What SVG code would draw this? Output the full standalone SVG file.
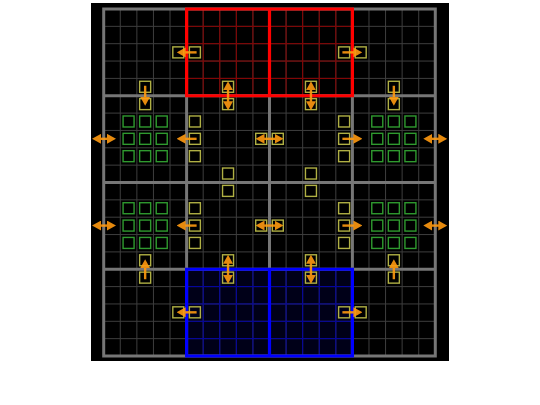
<svg xmlns="http://www.w3.org/2000/svg" xmlns:xlink="http://www.w3.org/1999/xlink" width="540" height="405" viewBox="0 0 540 405">
<style>
.fine{fill:none;stroke:#3e3e3e;stroke-width:1}
.fr{fill:none;stroke:#8a0000;stroke-width:1}
.fb{fill:none;stroke:#0000a8;stroke-width:1}
.thick{fill:none;stroke:#767676;stroke-width:3}
.tr{fill:none;stroke:#ff0000;stroke-width:3.2}
.tb{fill:none;stroke:#0000ff;stroke-width:3.2}
.y{fill:none;stroke:#b0b044;stroke-width:1.4}
.g{fill:none;stroke:#2f9a2f;stroke-width:1.4}
.ar{stroke:#ff9a10;stroke-width:2.4;fill:none;opacity:0.9}
.s{marker-end:url(#ah)}
.d{marker-start:url(#ah);marker-end:url(#ah)}
</style>
<defs>
<marker id="ah" markerUnits="userSpaceOnUse" markerWidth="9" markerHeight="10" refX="4.5" refY="5" orient="auto-start-reverse" viewBox="0 0 9 10">
<path d="M0,0 L9,5 L0,10 z" fill="#ff9a10"/>
</marker>
</defs>
<rect x="0" y="0" width="540" height="405" fill="#ffffff"/>
<rect x="91" y="3" width="358" height="358" fill="#000000"/>
<g id="grid">
<g transform="translate(103.7,9) scale(16.58,17.35)">
<rect x="5" y="15" width="10" height="5" fill="#000018"/>
<path class="fine" vector-effect="non-scaling-stroke" d="M0,1H20M0,2H20M0,3H20M0,4H20M0,6H20M0,7H20M0,8H20M0,9H20M0,11H20M0,12H20M0,13H20M0,14H20M0,16H20M0,17H20M0,18H20M0,19H20M1,0V20M2,0V20M3,0V20M4,0V20M6,0V20M7,0V20M8,0V20M9,0V20M11,0V20M12,0V20M13,0V20M14,0V20M16,0V20M17,0V20M18,0V20M19,0V20"/>
<path class="fr" vector-effect="non-scaling-stroke" d="M5,1H15M5,2H15M5,3H15M5,4H15M6,0V5M7,0V5M8,0V5M9,0V5M11,0V5M12,0V5M13,0V5M14,0V5"/>
<path class="fb" vector-effect="non-scaling-stroke" d="M5,16H15M5,17H15M5,18H15M5,19H15M6,15V20M7,15V20M8,15V20M9,15V20M11,15V20M12,15V20M13,15V20M14,15V20"/>
<path class="thick" vector-effect="non-scaling-stroke" d="M0,0H20V20H0Z M5,0V20 M10,0V20 M15,0V20 M0,5H20 M0,10H20 M0,15H20"/>
<path class="tr" vector-effect="non-scaling-stroke" d="M5,0H15V5H5Z M10,0V5"/>
<path class="tb" vector-effect="non-scaling-stroke" d="M5,15H15V20H5Z M10,15V20"/>
</g>
</g>
<g id="n-y-4-2"><rect class="y" x="172.81" y="46.88" width="11" height="11"/></g>
<g id="n-y-5-2"><rect class="y" x="189.39" y="46.88" width="11" height="11"/></g>
<g id="n-y-14-2"><rect class="y" x="338.61" y="46.88" width="11" height="11"/></g>
<g id="n-y-15-2"><rect class="y" x="355.19" y="46.88" width="11" height="11"/></g>
<g id="n-y-2-4"><rect class="y" x="139.65" y="81.28" width="11" height="11"/></g>
<g id="n-y-2-5"><rect class="y" x="139.65" y="98.63" width="11" height="11"/></g>
<g id="n-y-7-4"><rect class="y" x="222.55" y="81.28" width="11" height="11"/></g>
<g id="n-y-7-5"><rect class="y" x="222.55" y="98.63" width="11" height="11"/></g>
<g id="n-y-12-4"><rect class="y" x="305.45" y="81.28" width="11" height="11"/></g>
<g id="n-y-12-5"><rect class="y" x="305.45" y="98.63" width="11" height="11"/></g>
<g id="n-y-17-4"><rect class="y" x="388.35" y="81.28" width="11" height="11"/></g>
<g id="n-y-17-5"><rect class="y" x="388.35" y="98.63" width="11" height="11"/></g>
<g id="n-y-5-6"><rect class="y" x="189.39" y="115.98" width="11" height="11"/></g>
<g id="n-y-5-7"><rect class="y" x="189.39" y="133.33" width="11" height="11"/></g>
<g id="n-y-5-8"><rect class="y" x="189.39" y="150.68" width="11" height="11"/></g>
<g id="n-y-14-6"><rect class="y" x="338.61" y="115.98" width="11" height="11"/></g>
<g id="n-y-14-7"><rect class="y" x="338.61" y="133.33" width="11" height="11"/></g>
<g id="n-y-14-8"><rect class="y" x="338.61" y="150.68" width="11" height="11"/></g>
<g id="n-y-9-7"><rect class="y" x="255.71" y="133.33" width="11" height="11"/></g>
<g id="n-y-10-7"><rect class="y" x="272.29" y="133.33" width="11" height="11"/></g>
<g id="n-y-7-9"><rect class="y" x="222.55" y="168.03" width="11" height="11"/></g>
<g id="n-y-7-10"><rect class="y" x="222.55" y="185.38" width="11" height="11"/></g>
<g id="n-y-12-9"><rect class="y" x="305.45" y="168.03" width="11" height="11"/></g>
<g id="n-y-12-10"><rect class="y" x="305.45" y="185.38" width="11" height="11"/></g>
<g id="n-y-5-11"><rect class="y" x="189.39" y="202.73" width="11" height="11"/></g>
<g id="n-y-5-12"><rect class="y" x="189.39" y="220.08" width="11" height="11"/></g>
<g id="n-y-5-13"><rect class="y" x="189.39" y="237.43" width="11" height="11"/></g>
<g id="n-y-14-11"><rect class="y" x="338.61" y="202.73" width="11" height="11"/></g>
<g id="n-y-14-12"><rect class="y" x="338.61" y="220.08" width="11" height="11"/></g>
<g id="n-y-14-13"><rect class="y" x="338.61" y="237.43" width="11" height="11"/></g>
<g id="n-y-9-12"><rect class="y" x="255.71" y="220.08" width="11" height="11"/></g>
<g id="n-y-10-12"><rect class="y" x="272.29" y="220.08" width="11" height="11"/></g>
<g id="n-y-2-14"><rect class="y" x="139.65" y="254.78" width="11" height="11"/></g>
<g id="n-y-2-15"><rect class="y" x="139.65" y="272.13" width="11" height="11"/></g>
<g id="n-y-7-14"><rect class="y" x="222.55" y="254.78" width="11" height="11"/></g>
<g id="n-y-7-15"><rect class="y" x="222.55" y="272.13" width="11" height="11"/></g>
<g id="n-y-12-14"><rect class="y" x="305.45" y="254.78" width="11" height="11"/></g>
<g id="n-y-12-15"><rect class="y" x="305.45" y="272.13" width="11" height="11"/></g>
<g id="n-y-17-14"><rect class="y" x="388.35" y="254.78" width="11" height="11"/></g>
<g id="n-y-17-15"><rect class="y" x="388.35" y="272.13" width="11" height="11"/></g>
<g id="n-y-4-17"><rect class="y" x="172.81" y="306.83" width="11" height="11"/></g>
<g id="n-y-5-17"><rect class="y" x="189.39" y="306.83" width="11" height="11"/></g>
<g id="n-y-14-17"><rect class="y" x="338.61" y="306.83" width="11" height="11"/></g>
<g id="n-y-15-17"><rect class="y" x="355.19" y="306.83" width="11" height="11"/></g>
<g id="n-g-1-6"><rect class="g" x="123.07" y="115.98" width="11" height="11"/></g>
<g id="n-g-2-6"><rect class="g" x="139.65" y="115.98" width="11" height="11"/></g>
<g id="n-g-3-6"><rect class="g" x="156.23" y="115.98" width="11" height="11"/></g>
<g id="n-g-1-7"><rect class="g" x="123.07" y="133.33" width="11" height="11"/></g>
<g id="n-g-2-7"><rect class="g" x="139.65" y="133.33" width="11" height="11"/></g>
<g id="n-g-3-7"><rect class="g" x="156.23" y="133.33" width="11" height="11"/></g>
<g id="n-g-1-8"><rect class="g" x="123.07" y="150.68" width="11" height="11"/></g>
<g id="n-g-2-8"><rect class="g" x="139.65" y="150.68" width="11" height="11"/></g>
<g id="n-g-3-8"><rect class="g" x="156.23" y="150.68" width="11" height="11"/></g>
<g id="n-g-16-6"><rect class="g" x="371.77" y="115.98" width="11" height="11"/></g>
<g id="n-g-17-6"><rect class="g" x="388.35" y="115.98" width="11" height="11"/></g>
<g id="n-g-18-6"><rect class="g" x="404.93" y="115.98" width="11" height="11"/></g>
<g id="n-g-16-7"><rect class="g" x="371.77" y="133.33" width="11" height="11"/></g>
<g id="n-g-17-7"><rect class="g" x="388.35" y="133.33" width="11" height="11"/></g>
<g id="n-g-18-7"><rect class="g" x="404.93" y="133.33" width="11" height="11"/></g>
<g id="n-g-16-8"><rect class="g" x="371.77" y="150.68" width="11" height="11"/></g>
<g id="n-g-17-8"><rect class="g" x="388.35" y="150.68" width="11" height="11"/></g>
<g id="n-g-18-8"><rect class="g" x="404.93" y="150.68" width="11" height="11"/></g>
<g id="n-g-1-11"><rect class="g" x="123.07" y="202.73" width="11" height="11"/></g>
<g id="n-g-2-11"><rect class="g" x="139.65" y="202.73" width="11" height="11"/></g>
<g id="n-g-3-11"><rect class="g" x="156.23" y="202.73" width="11" height="11"/></g>
<g id="n-g-1-12"><rect class="g" x="123.07" y="220.08" width="11" height="11"/></g>
<g id="n-g-2-12"><rect class="g" x="139.65" y="220.08" width="11" height="11"/></g>
<g id="n-g-3-12"><rect class="g" x="156.23" y="220.08" width="11" height="11"/></g>
<g id="n-g-1-13"><rect class="g" x="123.07" y="237.43" width="11" height="11"/></g>
<g id="n-g-2-13"><rect class="g" x="139.65" y="237.43" width="11" height="11"/></g>
<g id="n-g-3-13"><rect class="g" x="156.23" y="237.43" width="11" height="11"/></g>
<g id="n-g-16-11"><rect class="g" x="371.77" y="202.73" width="11" height="11"/></g>
<g id="n-g-17-11"><rect class="g" x="388.35" y="202.73" width="11" height="11"/></g>
<g id="n-g-18-11"><rect class="g" x="404.93" y="202.73" width="11" height="11"/></g>
<g id="n-g-16-12"><rect class="g" x="371.77" y="220.08" width="11" height="11"/></g>
<g id="n-g-17-12"><rect class="g" x="388.35" y="220.08" width="11" height="11"/></g>
<g id="n-g-18-12"><rect class="g" x="404.93" y="220.08" width="11" height="11"/></g>
<g id="n-g-16-13"><rect class="g" x="371.77" y="237.43" width="11" height="11"/></g>
<g id="n-g-17-13"><rect class="g" x="388.35" y="237.43" width="11" height="11"/></g>
<g id="n-g-18-13"><rect class="g" x="404.93" y="237.43" width="11" height="11"/></g>
<g id="connectors" class="ar">
<line class="s" x1="196.6" y1="52.38" x2="181.1" y2="52.38"/>
<line class="s" x1="342.4" y1="52.38" x2="357.9" y2="52.38"/>
<line class="s" x1="145.15" y1="85.75" x2="145.15" y2="101.25"/>
<line class="d" x1="228.05" y1="85.75" x2="228.05" y2="105.75"/>
<line class="d" x1="310.95" y1="85.75" x2="310.95" y2="105.75"/>
<line class="s" x1="393.85" y1="85.75" x2="393.85" y2="101.25"/>
<line class="d" x1="96.5" y1="138.83" x2="111.5" y2="138.83"/>
<line class="s" x1="196.6" y1="138.83" x2="181.1" y2="138.83"/>
<line class="d" x1="260" y1="138.83" x2="279" y2="138.83"/>
<line class="s" x1="342.4" y1="138.83" x2="357.9" y2="138.83"/>
<line class="d" x1="427.8" y1="138.83" x2="442.8" y2="138.83"/>
<line class="d" x1="96.5" y1="225.58" x2="111.5" y2="225.58"/>
<line class="s" x1="196.6" y1="225.58" x2="181.1" y2="225.58"/>
<line class="d" x1="260" y1="225.58" x2="279" y2="225.58"/>
<line class="s" x1="342.4" y1="225.58" x2="357.9" y2="225.58"/>
<line class="d" x1="427.8" y1="225.58" x2="442.8" y2="225.58"/>
<line class="s" x1="145.15" y1="279.25" x2="145.15" y2="263.75"/>
<line class="d" x1="228.05" y1="259.25" x2="228.05" y2="279.25"/>
<line class="d" x1="310.95" y1="259.25" x2="310.95" y2="279.25"/>
<line class="s" x1="393.85" y1="279.25" x2="393.85" y2="263.75"/>
<line class="s" x1="196.6" y1="312.33" x2="181.1" y2="312.33"/>
<line class="s" x1="342.4" y1="312.33" x2="357.9" y2="312.33"/>
</g>
</svg>
